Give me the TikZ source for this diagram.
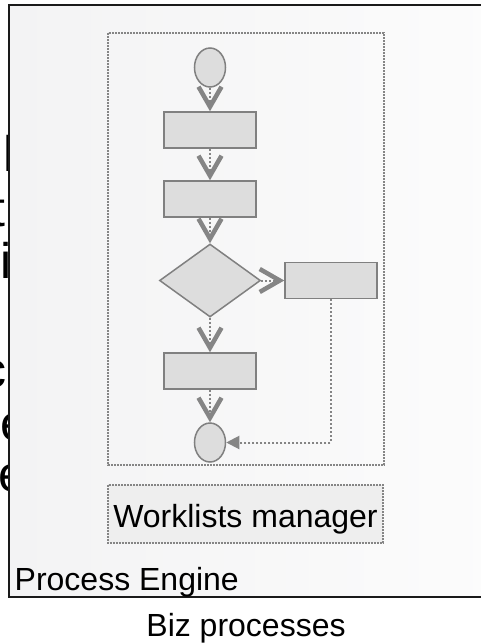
\documentclass[tikz,border=0pt]{standalone}
\usepackage{fontspec}
\setmainfont{Liberation Sans}
\usetikzlibrary{shapes.geometric,arrows.meta}
\definecolor{nodefill}{HTML}{DDDDDD}
\definecolor{nodeline}{HTML}{808080}
\definecolor{dotline}{HTML}{858585}
\definecolor{framecol}{HTML}{1A1A1A}
\definecolor{wlfill}{HTML}{EEEEEE}
\definecolor{bgleft}{HTML}{F3F3F4}
\definecolor{bgright}{HTML}{FCFCFC}
\tikzset{
  shapebase/.style={draw=nodeline, fill=nodefill, line width=1.5pt, inner sep=0pt},
  taskbox/.style={shapebase, rectangle, minimum width=92pt, minimum height=36pt},
  eventnode/.style={shapebase, ellipse, minimum width=31pt, minimum height=39pt},
  gatenode/.style={shapebase, diamond, minimum width=101pt, minimum height=73pt},
  flowline/.style={draw=dotline, line width=2pt, dash pattern=on 2pt off 2pt,
    -{Straight Barb[length=20pt,width=23pt,line width=4.5pt]}},
  loopline/.style={draw=dotline, line width=2pt, dash pattern=on 2pt off 2pt,
    -{Triangle[length=13pt,width=13pt]}},
  dotbox/.style={draw=dotline, line width=1.5pt, dash pattern=on 2pt off 1pt},
  bigtxt/.style={inner sep=0pt, anchor=base west, font=\fontsize{50}{60}\selectfont},
  lbl/.style={inner sep=0pt, font=\fontsize{32}{38}\selectfont}
}
\begin{document}
\begin{tikzpicture}[x=1pt,y=-1pt]
\useasboundingbox (0,0) rectangle (481,643);
\clip (0,0) rectangle (481,643);
\fill[white] (0,0) rectangle (481,643);
% clipped background text
\node[bigtxt] (g1) at (3.4,171) {l};
\node[bigtxt] (g2) at (-8.75,226) {t};
\node[bigtxt] (g3) at (0.65,278) {i};
\node[bigtxt] (g4) at (-18.5,387) {c};
\node[bigtxt] (g5) at (0,440) {e};
\node[bigtxt] (g6) at (-2,491) {e};
% main frame
\shade[left color=bgleft, right color=bgright] (9,5) rectangle (500,597);
\draw[framecol, line width=2pt] (9,5) rectangle (500,597);
% process box
\draw[dotbox] (108,33) rectangle (384,465);
% worklists
\draw[dotbox, fill=wlfill] (108,485) rectangle (383,543);
\node[lbl, anchor=base] (wl) at (245.5,527) {Worklists manager};
\node[lbl, anchor=base west] (pe) at (14.5,590) {Process Engine};
\node[lbl, anchor=base] (bp) at (246,636) {Biz processes};
% flow nodes
\node[eventnode] (start) at (210,67.5) {};
\node[taskbox] (r1) at (210,130) {};
\node[taskbox] (r2) at (210,199) {};
\node[gatenode] (d) at (210,280.5) {};
\node[taskbox] (r4) at (331,280.5) {};
\node[taskbox] (r3) at (210,371) {};
\node[eventnode] (end) at (210,442.5) {};
% connectors
\draw[flowline] (start) -- (r1);
\draw[flowline] (r1) -- (r2);
\draw[flowline] (r2) -- (d);
\draw[flowline] (d) -- (r4);
\draw[flowline] (d) -- (r3);
\draw[flowline] (r3) -- (end);
\draw[loopline] (r4.south) |- (end.east);
\end{tikzpicture}
\end{document}
